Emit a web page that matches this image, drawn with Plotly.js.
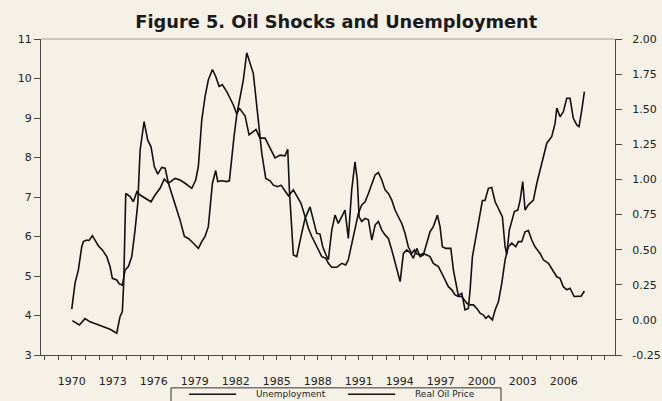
<!DOCTYPE html>
<html>
<head>
<meta charset="utf-8">
<script src="https://cdn.plot.ly/plotly-3.0.1.min.js"></script>
<style>
  html, body { margin: 0; padding: 0; background: #f6f1e6; }
  #chart { width: 662px; height: 401px; }
</style>
</head>
<body>
<div id="chart"></div>
<script>
// Unemployment rate (left axis, %)
const uYears = [1970.00,1970.24,1970.48,1970.73,1970.85,1971.10,1971.27,1971.51,1971.70,1971.95,1972.24,1972.56,1972.80,1972.97,1973.29,1973.48,1973.70,1973.90,1974.14,1974.39,1974.63,1974.83,1975.00,1975.29,1975.56,1975.80,1976.04,1976.29,1976.58,1976.83,1977.07,1977.56,1977.92,1978.24,1978.53,1978.90,1979.26,1979.51,1979.75,1979.99,1980.17,1980.29,1980.53,1980.68,1980.97,1981.34,1981.53,1981.70,1981.87,1982.07,1982.31,1982.55,1982.80,1983.04,1983.28,1983.41,1983.65,1983.90,1984.19,1984.51,1984.75,1985.07,1985.31,1985.55,1985.85,1986.21,1986.46,1986.77,1987.07,1987.31,1987.56,1987.80,1988.09,1988.29,1988.58,1988.77,1989.02,1989.39,1989.75,1990.04,1990.23,1990.48,1990.72,1990.97,1991.21,1991.46,1991.70,1991.95,1992.19,1992.43,1992.68,1992.92,1993.16,1993.41,1993.65,1993.89,1994.14,1994.38,1994.62,1994.87,1995.06,1995.24,1995.48,1995.72,1995.97,1996.21,1996.45,1996.82,1997.07,1997.31,1997.55,1997.80,1998.04,1998.28,1998.53,1998.90,1999.14,1999.38,1999.63,1999.87,2000.11,2000.29,2000.48,2000.77,2000.97,2001.21,2001.46,2001.70,2001.94,2002.19,2002.48,2002.67,2002.92,2003.16,2003.40,2003.65,2003.89,2004.26,2004.50,2004.87,2005.23,2005.48,2005.72,2005.96,2006.21,2006.45,2006.75,2006.99,2007.26,2007.50];
const unemployment = [4.16,4.82,5.15,5.74,5.87,5.91,5.90,6.02,5.91,5.76,5.66,5.49,5.24,4.94,4.90,4.80,4.77,5.15,5.24,5.49,6.16,6.84,8.19,8.91,8.44,8.27,7.77,7.58,7.75,7.73,7.35,6.84,6.42,6.00,5.95,5.83,5.70,5.87,6.00,6.25,6.84,7.35,7.67,7.39,7.41,7.39,7.41,8.02,8.53,9.08,9.54,9.96,10.65,10.38,10.13,9.71,8.87,8.11,7.47,7.41,7.30,7.26,7.30,7.18,7.03,7.18,7.03,6.84,6.50,6.21,6.00,5.83,5.66,5.49,5.45,5.32,5.22,5.22,5.32,5.28,5.41,5.83,6.25,6.59,6.80,6.88,7.09,7.35,7.56,7.62,7.43,7.18,7.09,6.92,6.67,6.50,6.33,6.08,5.74,5.57,5.66,5.56,5.53,5.57,5.53,5.49,5.32,5.24,5.07,4.90,4.73,4.65,4.52,4.48,4.48,4.31,4.27,4.27,4.18,4.06,4.01,3.93,3.99,3.89,4.14,4.35,4.82,5.41,5.74,5.83,5.74,5.87,5.87,6.12,6.15,5.91,5.74,5.57,5.41,5.32,5.11,4.98,4.94,4.73,4.65,4.69,4.48,4.48,4.49,4.62];

// Real oil price (right axis)
const oilYears = [1970.04,1970.37,1970.56,1970.97,1971.34,1971.83,1972.31,1972.80,1973.29,1973.53,1973.70,1973.80,1973.95,1974.27,1974.51,1974.76,1975.00,1975.36,1975.80,1976.09,1976.46,1976.77,1977.07,1977.56,1977.92,1978.29,1978.78,1979.07,1979.26,1979.51,1979.75,1979.99,1980.29,1980.53,1980.78,1981.02,1981.34,1981.58,1981.82,1982.07,1982.26,1982.68,1982.97,1983.48,1983.77,1984.14,1984.58,1984.87,1985.24,1985.60,1985.80,1985.92,1986.21,1986.46,1986.77,1987.07,1987.43,1987.67,1987.92,1988.16,1988.36,1988.58,1988.77,1989.02,1989.26,1989.50,1989.75,1989.99,1990.23,1990.48,1990.72,1990.89,1991.02,1991.21,1991.46,1991.70,1991.95,1992.19,1992.43,1992.68,1992.92,1993.16,1993.41,1993.65,1993.89,1994.02,1994.26,1994.51,1994.75,1994.99,1995.24,1995.48,1995.72,1995.97,1996.21,1996.45,1996.75,1996.94,1997.11,1997.36,1997.73,1997.92,1998.11,1998.28,1998.53,1998.77,1999.01,1999.14,1999.31,1999.55,1999.80,2000.04,2000.23,2000.48,2000.72,2000.97,2001.21,2001.50,2001.70,2001.82,2002.01,2002.19,2002.38,2002.63,2002.80,2002.99,2003.16,2003.40,2003.77,2004.02,2004.26,2004.50,2004.75,2005.11,2005.36,2005.48,2005.72,2005.96,2006.21,2006.45,2006.69,2006.94,2007.11,2007.31,2007.50];
const realOilPrice = [-0.005,-0.025,-0.036,0.009,-0.014,-0.031,-0.048,-0.067,-0.095,0.023,0.059,0.262,0.900,0.878,0.841,0.912,0.889,0.867,0.841,0.889,0.937,1.002,0.973,1.007,0.996,0.973,0.937,0.996,1.092,1.423,1.589,1.708,1.783,1.733,1.663,1.674,1.626,1.578,1.530,1.466,1.508,1.452,1.317,1.356,1.294,1.294,1.210,1.153,1.173,1.168,1.215,0.926,0.462,0.450,0.594,0.723,0.805,0.712,0.616,0.611,0.521,0.467,0.428,0.639,0.746,0.687,0.734,0.782,0.580,0.926,1.125,0.996,0.734,0.701,0.723,0.712,0.568,0.675,0.701,0.639,0.605,0.580,0.498,0.403,0.307,0.273,0.473,0.498,0.478,0.439,0.509,0.450,0.462,0.546,0.628,0.664,0.746,0.664,0.521,0.509,0.509,0.355,0.248,0.172,0.189,0.071,0.082,0.214,0.450,0.580,0.712,0.850,0.850,0.937,0.943,0.841,0.793,0.734,0.521,0.467,0.639,0.712,0.771,0.782,0.853,0.985,0.782,0.819,0.853,0.973,1.066,1.162,1.258,1.305,1.401,1.508,1.446,1.483,1.578,1.578,1.435,1.388,1.376,1.494,1.626];

// Axis ticks and series names
const tickYears = [1970,1973,1976,1979,1982,1985,1988,1991,1994,1997,2000,2003,2006];
const leftTicks = [3,4,5,6,7,8,9,10,11];
const rightTicks = [-0.25,0,0.25,0.5,0.75,1,1.25,1.5,1.75,2];
const seriesNames = ['Unemployment', 'Real Oil Price'];

const bg = '#f6f1e6';
const axisCol = '#4a4a4a';
const lineCol = '#111';
const tickFont = {family: 'DejaVu Sans, Arial, sans-serif', size: 11, color: '#222'};
const legendFont = {family: 'DejaVu Sans, Arial, sans-serif', size: 9, color: '#222'};

const traces = [
  {x: uYears, y: unemployment, type: 'scatter', mode: 'lines', name: seriesNames[0],
   line: {color: lineCol, width: 1.6}, showlegend: false},
  {x: oilYears, y: realOilPrice, type: 'scatter', mode: 'lines', name: seriesNames[1],
   yaxis: 'y2', line: {color: lineCol, width: 1.6}, showlegend: false}
];

// Legend drawn as a boxed key below the axis (paper coordinates)
const legendY = -0.124;
const legendItems = [
  {lx0: 0.258, lx1: 0.340, tx: 0.373},
  {lx0: 0.535, lx1: 0.617, tx: 0.650}
];
const shapes = [
  {type: 'line', xref: 'paper', yref: 'paper', x0: 0, x1: 1, y0: 1, y1: 1,
   line: {color: '#9a9a9a', width: 1}},
  {type: 'rect', xref: 'paper', yref: 'paper', x0: 0.2265, x1: 0.8014, y0: -0.104, y1: -0.20,
   line: {color: '#333', width: 1}, fillcolor: 'rgba(0,0,0,0)'}
];
const annotations = [];
legendItems.forEach((it, i) => {
  shapes.push({type: 'line', xref: 'paper', yref: 'paper', x0: it.lx0, x1: it.lx1,
    y0: legendY, y1: legendY, line: {color: lineCol, width: 1.6}});
  annotations.push({xref: 'paper', yref: 'paper', x: it.tx, y: legendY, xanchor: 'left',
    yanchor: 'middle', text: seriesNames[i], showarrow: false, font: legendFont,
    borderpad: 0});
});

const layout = {
  width: 662, height: 401,
  paper_bgcolor: bg, plot_bgcolor: bg,
  margin: {l: 41, r: 47, t: 39, b: 46, autoexpand: false},
  title: {
    text: 'Figure 5. Oil Shocks and Unemployment',
    font: {family: 'DejaVu Sans, Arial, sans-serif', size: 17.8, color: '#1a1a1a', weight: 700},
    x: 0.508, xanchor: 'center', xref: 'container',
    y: 0.945, yanchor: 'middle', yref: 'container'
  },
  xaxis: {
    range: [1967.75, 2009.74],
    tickmode: 'array', tickvals: tickYears, ticktext: tickYears.map(String),
    ticks: 'outside', ticklen: 4, tickcolor: axisCol, tickwidth: 1,
    showline: true, linecolor: axisCol, linewidth: 1,
    showgrid: false, zeroline: false,
    tickfont: tickFont, ticklabelstandoff: 12,
    minor: {ticks: 'outside', ticklen: 4, dtick: 1, tick0: 1970, tickcolor: axisCol, showgrid: false}
  },
  yaxis: {
    range: [3, 11],
    tickmode: 'array', tickvals: leftTicks, ticktext: leftTicks.map(String),
    ticks: 'outside', ticklen: 6, tickcolor: axisCol,
    showline: true, linecolor: axisCol, linewidth: 1,
    showgrid: false, zeroline: false, tickfont: tickFont
  },
  yaxis2: {
    range: [-0.25, 2.0], overlaying: 'y', side: 'right',
    tickmode: 'array', tickvals: rightTicks, ticktext: rightTicks.map(v => v.toFixed(2)),
    ticks: 'outside', ticklen: 6, tickcolor: axisCol,
    showline: true, linecolor: axisCol, linewidth: 1,
    showgrid: false, zeroline: false, tickfont: tickFont, ticklabelstandoff: 8
  },
  shapes: shapes,
  annotations: annotations,
  showlegend: false
};

Plotly.newPlot('chart', traces, layout, {displayModeBar: false, staticPlot: true});
</script>
</body>
</html>
